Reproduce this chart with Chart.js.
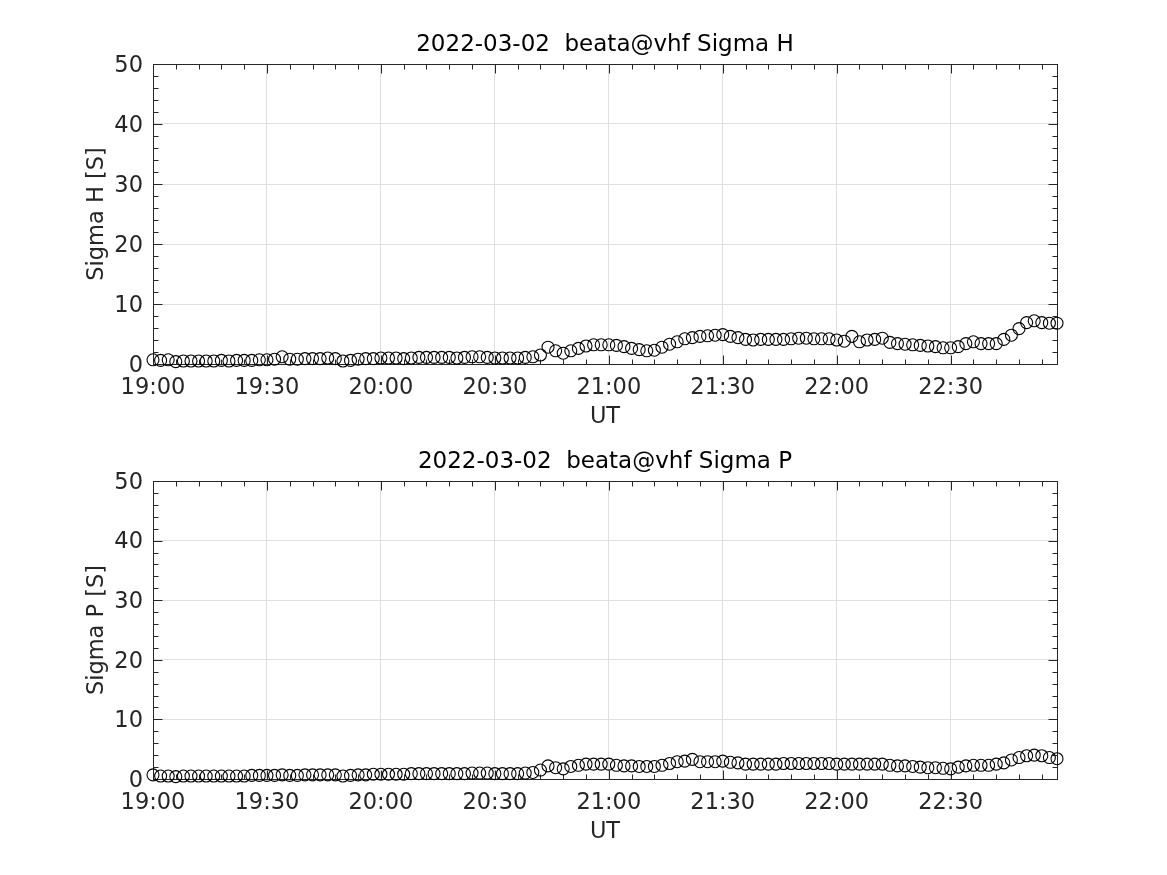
<!DOCTYPE html>
<html>
<head>
<meta charset="utf-8">
<title>beata@vhf Sigma H / Sigma P</title>
<script src="https://cdn.jsdelivr.net/npm/chart.js@4.4.0/dist/chart.umd.min.js"></script>
<style>
  body { margin: 0; background: #fff; }
  .panel { position: absolute; left: 0; width: 1167px; }
</style>
</head>
<body>
<div class="panel" style="top:0;height:437px"><canvas id="topChart" width="1167" height="437"></canvas></div>
<div class="panel" style="top:437px;height:438px"><canvas id="bottomChart" width="1167" height="438"></canvas></div>
<script>
// sample times (UT), one every 2 minutes
const utTimes = [
  "19:00","19:02","19:04","19:06","19:08","19:10","19:12","19:14","19:16","19:18",
  "19:20","19:22","19:24","19:26","19:28","19:30","19:32","19:34","19:36","19:38",
  "19:40","19:42","19:44","19:46","19:48","19:50","19:52","19:54","19:56","19:58",
  "20:00","20:02","20:04","20:06","20:08","20:10","20:12","20:14","20:16","20:18",
  "20:20","20:22","20:24","20:26","20:28","20:30","20:32","20:34","20:36","20:38",
  "20:40","20:42","20:44","20:46","20:48","20:50","20:52","20:54","20:56","20:58",
  "21:00","21:02","21:04","21:06","21:08","21:10","21:12","21:14","21:16","21:18",
  "21:20","21:22","21:24","21:26","21:28","21:30","21:32","21:34","21:36","21:38",
  "21:40","21:42","21:44","21:46","21:48","21:50","21:52","21:54","21:56","21:58",
  "22:00","22:02","22:04","22:06","22:08","22:10","22:12","22:14","22:16","22:18",
  "22:20","22:22","22:24","22:26","22:28","22:30","22:32","22:34","22:36","22:38",
  "22:40","22:42","22:44","22:46","22:48","22:50","22:52","22:54","22:56","22:58"
];

// Hall conductance [S]
const sigmaH = [
  0.7, 0.6, 0.7, 0.4, 0.5, 0.5, 0.5, 0.5, 0.5, 0.6,
  0.5, 0.6, 0.6, 0.6, 0.7, 0.7, 0.8, 1.2, 0.8, 0.8,
  0.9, 0.9, 0.9, 1.0, 0.9, 0.5, 0.6, 0.8, 0.9, 0.9,
  1.0, 1.0, 1.0, 0.9, 1.0, 1.1, 1.1, 1.1, 1.1, 1.1,
  1.0, 1.1, 1.2, 1.2, 1.1, 1.0, 1.0, 1.0, 1.0, 1.1,
  1.2, 1.5, 2.8, 2.2, 1.8, 2.2, 2.6, 3.0, 3.2, 3.2,
  3.2, 3.1, 2.9, 2.6, 2.4, 2.2, 2.3, 2.8, 3.3, 3.7,
  4.2, 4.4, 4.6, 4.7, 4.8, 4.9, 4.6, 4.4, 4.1, 4.0,
  4.1, 4.1, 4.1, 4.1, 4.2, 4.3, 4.3, 4.2, 4.2, 4.2,
  4.0, 3.8, 4.6, 3.7, 4.0, 4.1, 4.3, 3.6, 3.4, 3.3,
  3.2, 3.1, 3.0, 2.9, 2.7, 2.7, 2.9, 3.4, 3.7, 3.4,
  3.4, 3.4, 4.1, 4.8, 5.9, 6.9, 7.2, 6.9, 6.8, 6.8
];

// Pedersen conductance [S]
const sigmaP = [
  0.7, 0.5, 0.5, 0.4, 0.5, 0.5, 0.5, 0.5, 0.5, 0.5,
  0.5, 0.5, 0.5, 0.6, 0.6, 0.6, 0.6, 0.7, 0.6, 0.6,
  0.7, 0.7, 0.7, 0.7, 0.7, 0.5, 0.6, 0.7, 0.7, 0.8,
  0.8, 0.8, 0.8, 0.8, 0.9, 0.9, 0.9, 0.9, 0.9, 0.9,
  0.9, 0.9, 1.0, 1.0, 1.0, 0.9, 0.9, 0.9, 0.9, 1.0,
  1.1, 1.5, 2.2, 1.9, 1.7, 2.1, 2.3, 2.5, 2.5, 2.5,
  2.5, 2.3, 2.2, 2.2, 2.1, 2.1, 2.1, 2.3, 2.6, 2.9,
  3.0, 3.3, 2.9, 2.9, 2.9, 3.0, 2.8, 2.7, 2.5, 2.5,
  2.5, 2.5, 2.5, 2.6, 2.6, 2.6, 2.6, 2.6, 2.6, 2.6,
  2.5, 2.5, 2.5, 2.5, 2.5, 2.5, 2.5, 2.3, 2.2, 2.2,
  2.1, 2.0, 1.9, 1.9, 1.8, 1.7, 2.0, 2.2, 2.3, 2.3,
  2.3, 2.5, 2.7, 3.2, 3.6, 3.9, 4.0, 3.9, 3.6, 3.4
];

const xTickLabels = ["19:00", "19:30", "20:00", "20:30", "21:00", "21:30", "22:00", "22:30"];

const FONT = "'DejaVu Sans', sans-serif";
const AXIS = "#262626";
const GRID = "#dfdfdf";

function toMinutes(t) {
  const [h, m] = t.split(":").map(Number);
  return (h - 19) * 60 + m;
}

// matlab style axes: box, inward ticks on all sides, title + axis labels
const matlabFrame = {
  id: "matlabFrame",
  beforeDatasetsDraw(chart) {
    const { ctx, chartArea: a, scales: { x, y } } = chart;
    const l = Math.round(a.left) + 0.5, r = Math.round(a.right) + 0.5;
    const t = Math.round(a.top) + 0.5, b = Math.round(a.bottom) + 0.5;
    ctx.save();
    ctx.strokeStyle = AXIS;
    ctx.lineWidth = 1;
    ctx.strokeRect(l, t, r - l, b - t);
    ctx.beginPath();
    for (let m = 0; m <= x.max; m += 6) {
      const px = Math.round(x.getPixelForValue(m)) + 0.5;
      const len = m % 30 === 0 ? 9 : 5;
      ctx.moveTo(px, b); ctx.lineTo(px, b - len);
      ctx.moveTo(px, t); ctx.lineTo(px, t + len);
    }
    for (let v = y.min; v <= y.max; v += 2) {
      const py = Math.round(y.getPixelForValue(v)) + 0.5;
      const len = v % 10 === 0 ? 9 : 5;
      ctx.moveTo(l, py); ctx.lineTo(l + len, py);
      ctx.moveTo(r, py); ctx.lineTo(r - len, py);
    }
    ctx.stroke();
    ctx.restore();
  },
  afterDraw(chart, args, opts) {
    const { ctx, chartArea: a } = chart;
    const cx = (a.left + a.right) / 2;
    ctx.save();
    ctx.fillStyle = "#000";
    ctx.textAlign = "center";
    ctx.textBaseline = "middle";
    ctx.font = "23px " + FONT;
    ctx.fillText(opts.title, cx, a.top - 19);
    ctx.fillStyle = AXIS;
    ctx.font = "22.5px " + FONT;
    ctx.fillText(opts.xTitle, cx, a.bottom + 53);
    ctx.translate(97, (a.top + a.bottom) / 2);
    ctx.rotate(-Math.PI / 2);
    ctx.fillText(opts.yTitle, 0, 0);
    ctx.restore();
  }
};

function makeChart(id, values, title, yTitle, padTop, xHeight) {
  const points = utTimes.map((t, i) => ({ x: toMinutes(t), y: values[i] }));
  return new Chart(document.getElementById(id).getContext("2d"), {
    type: "scatter",
    data: {
      datasets: [{
        data: points,
        showLine: false,
        pointStyle: "circle",
        pointRadius: 6,
        pointHoverRadius: 6,
        borderColor: "#000",
        borderWidth: 1.1,
        backgroundColor: "rgba(0,0,0,0)",
        clip: false
      }]
    },
    options: {
      responsive: false,
      animation: false,
      events: [],
      layout: { padding: { top: padTop, right: 110, left: 0, bottom: 0 } },
      plugins: {
        legend: { display: false },
        tooltip: { enabled: false },
        matlabFrame: { title: title, yTitle: yTitle, xTitle: "UT" }
      },
      scales: {
        x: {
          type: "linear",
          min: 0,
          max: toMinutes(utTimes[utTimes.length - 1]),
          afterFit(s) { s.height = xHeight; },
          border: { display: false },
          grid: { color: GRID, lineWidth: 1, drawTicks: false },
          ticks: {
            stepSize: 30,
            includeBounds: false,
            autoSkip: false,
            maxRotation: 0,
            padding: 11,
            color: AXIS,
            font: { family: FONT, size: 22.5 },
            callback: v => xTickLabels[v / 30] ?? ""
          }
        },
        y: {
          min: 0,
          max: 50,
          afterFit(s) { s.width = 153; },
          border: { display: false },
          grid: { color: GRID, lineWidth: 1, drawTicks: false },
          ticks: {
            stepSize: 10,
            padding: 10,
            labelOffset: 2,
            color: AXIS,
            font: { family: FONT, size: 22.5 }
          }
        }
      }
    },
    plugins: [matlabFrame]
  });
}

makeChart("topChart", sigmaH, "2022-03-02  beata@vhf Sigma H", "Sigma H [S]", 64, 73);
makeChart("bottomChart", sigmaP, "2022-03-02  beata@vhf Sigma P", "Sigma P [S]", 44, 96);
</script>
</body>
</html>
